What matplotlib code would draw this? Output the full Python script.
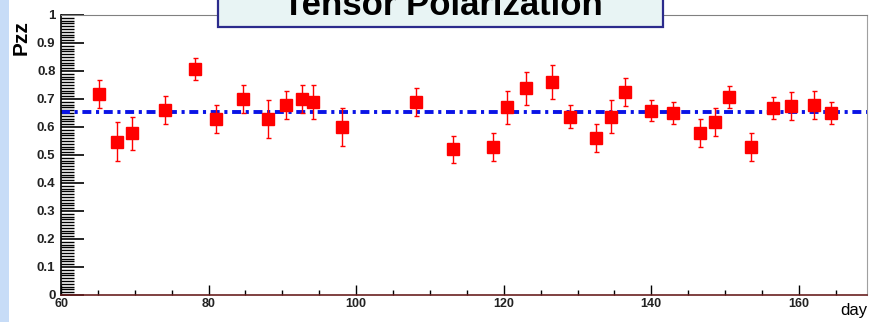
import matplotlib
matplotlib.use("Agg")
import matplotlib.pyplot as plt
from matplotlib.patches import Rectangle
from matplotlib.ticker import MultipleLocator, FuncFormatter

plt.rcParams['font.family'] = ['Liberation Sans', 'DejaVu Sans']

# measured points (day, Pzz, error)
day = [65.2, 67.6, 69.6, 74.1, 78.1, 81.0, 84.6, 88.1, 90.5, 92.6, 94.2,
       98.1, 108.1, 113.1, 118.5, 120.5, 123.0, 126.6, 129.0, 132.5, 134.5,
       136.5, 140.0, 143.0, 146.6, 148.6, 150.5, 153.5, 156.5, 159.0, 162.0,
       164.4]
pzz = [0.718, 0.548, 0.577, 0.661, 0.807, 0.627, 0.699, 0.627, 0.679, 0.699,
       0.690, 0.599, 0.690, 0.520, 0.530, 0.670, 0.738, 0.760, 0.637, 0.560,
       0.637, 0.726, 0.658, 0.649, 0.577, 0.619, 0.708, 0.530, 0.667, 0.676,
       0.679, 0.649]
err = [0.05, 0.07, 0.058, 0.05, 0.04, 0.05, 0.05, 0.068, 0.05, 0.05, 0.06,
       0.068, 0.05, 0.047, 0.05, 0.058, 0.06, 0.06, 0.04, 0.05, 0.058, 0.05,
       0.038, 0.04, 0.05, 0.05, 0.04, 0.05, 0.04, 0.05, 0.05, 0.04]
fit_level = 0.655

fig = plt.figure(figsize=(8.69, 3.22), dpi=100)
fig.patch.set_facecolor('white')

# light blue strip on the left edge
fig.add_artist(Rectangle((0, 0), 9 / 869, 1, transform=fig.transFigure,
                         facecolor='#c7dcf7', edgecolor='none', zorder=0))

ax = fig.add_axes([0.0702, 0.0839, 0.9272, 0.8696])

ax.errorbar(day, pzz, yerr=err, fmt='s', color='red', ms=8.5,
            ecolor='red', elinewidth=1, capsize=1.8, capthick=1, zorder=3)
ax.axhline(fit_level, color='#0a14e6', lw=2.8, dashes=(2.3, 1.2, 0.8, 1.2),
           zorder=2)

ax.set_xlim(60, 169.2)
ax.set_ylim(0, 1)

ax.xaxis.set_major_locator(MultipleLocator(20))
ax.xaxis.set_minor_locator(MultipleLocator(5))
ax.yaxis.set_major_locator(MultipleLocator(0.1))
ax.yaxis.set_minor_locator(MultipleLocator(0.01))
ax.yaxis.set_major_formatter(FuncFormatter(lambda v, p: '%g' % round(v, 2)))

ax.tick_params(axis='y', which='major', direction='in', length=16.5,
               width=1.2, labelsize=9.5, pad=4)
ax.tick_params(axis='y', which='minor', direction='in', length=9, width=1)
ax.tick_params(axis='x', which='major', direction='in', length=7,
               width=1, labelsize=9, pad=2)
ax.tick_params(axis='x', which='minor', direction='in', length=3.5, width=1)
for lab in ax.get_xticklabels() + ax.get_yticklabels():
    lab.set_fontweight('bold')
    lab.set_color('#222222')

ax.spines['top'].set_color('#808080')
ax.spines['right'].set_color('#a0a0a0')
ax.spines['right'].set_linewidth(0.8)
ax.spines['left'].set_linewidth(1.2)
ax.spines['bottom'].set_color('#6a2020')
ax.spines['bottom'].set_linewidth(1.2)

fig.text(21 / 869, 1 - 38 / 322, 'Pzz', rotation=90, fontweight='bold',
         fontsize=15, ha='center', va='center')
fig.text(867 / 869, 1 - 315 / 322, 'day', fontsize=12, ha='right',
         va='baseline')

# title box, cut off at the top
fig.add_artist(Rectangle((218 / 869, 1 - 27 / 322), (663 - 218) / 869, 0.2,
                         transform=fig.transFigure, facecolor='#e8f4f4',
                         edgecolor='#2b2b8c', lw=1.6, zorder=10))
fig.text(443 / 869, 1 - 15 / 322, 'Tensor Polarization', ha='center',
         va='baseline', fontsize=25, fontweight='bold', zorder=11)

fig.savefig('out.png', dpi=100)
